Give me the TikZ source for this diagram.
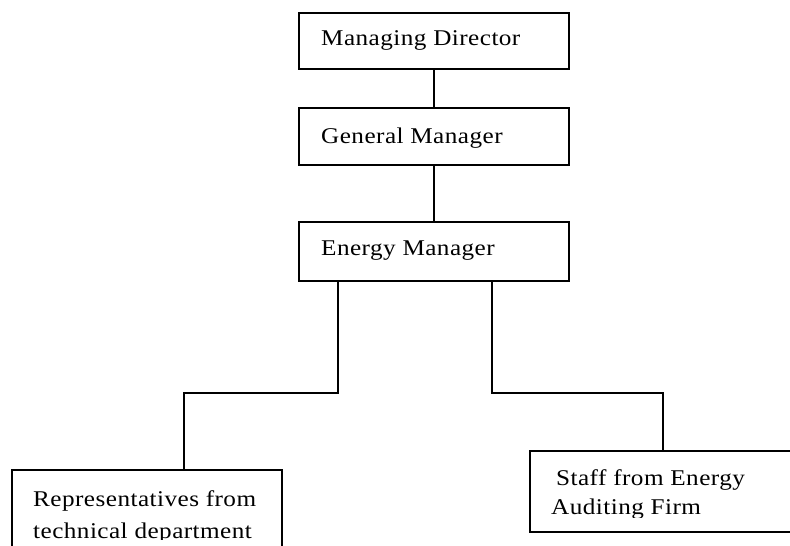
\documentclass[tikz,border=0pt]{standalone}
\usepackage{fontspec}
\setmainfont{Liberation Serif}[FakeStretch=1.12,LetterSpace=2]
\begin{document}
\begin{tikzpicture}[x=1pt,y=-1pt,
  box/.style={draw=black,line width=2.2pt,inner sep=0pt,rectangle},
  lbl/.style={anchor=base west,inner sep=0pt,font=\fontsize{22.5}{25}\selectfont},
  link/.style={draw=black,line width=2.2pt}]
\useasboundingbox (0,0) rectangle (790,546);
\clip (0,0) rectangle (790,546);
\fill[white] (0,0) rectangle (790,546);
% boxes
\node[box,minimum width=270pt,minimum height=56pt] (md) at (434,41) {};
\node[box,minimum width=270pt,minimum height=57pt] (gm) at (434,136.5) {};
\node[box,minimum width=270pt,minimum height=59pt] (em) at (434,251.5) {};
\node[box,minimum width=270pt,minimum height=150pt] (rep) at (147,545) {};
\node[box,minimum width=300pt,minimum height=81pt] (staff) at (680,491.5) {};
% labels
\node[lbl] (tmd) at (321,45) {Managing Director};
\node[lbl] (tgm) at (321,143) {General Manager};
\node[lbl] (tem) at (321,255) {Energy Manager};
\begin{scope}
  \clip (20,480) rectangle (280,539);
  \node[lbl] (trep1) at (33,506) {Representatives from};
  \node[lbl] (trep2) at (33,538) {technical department};
\end{scope}
\begin{scope}
  \clip (540,460) rectangle (790,517);
  \node[lbl] (tst1) at (556,485) {Staff from Energy};
  \node[lbl] (tst2) at (551,514) {Auditing Firm};
\end{scope}
% connectors
\coordinate (lvl) at (0,393);
\draw[link] (md.south) -- (gm.north);
\draw[link] (gm.south) -- (em.north);
\coordinate (a) at ([xshift=-96pt]em.south);
\coordinate (b) at ([xshift=37pt]rep.north);
\draw[link] (a) -- (a |- lvl) -- (b |- lvl) -- (b);
\coordinate (c) at ([xshift=58pt]em.south);
\coordinate (d) at ([xshift=-17pt]staff.north);
\draw[link] (c) -- (c |- lvl) -- (d |- lvl) -- (d);
\end{tikzpicture}
\end{document}
